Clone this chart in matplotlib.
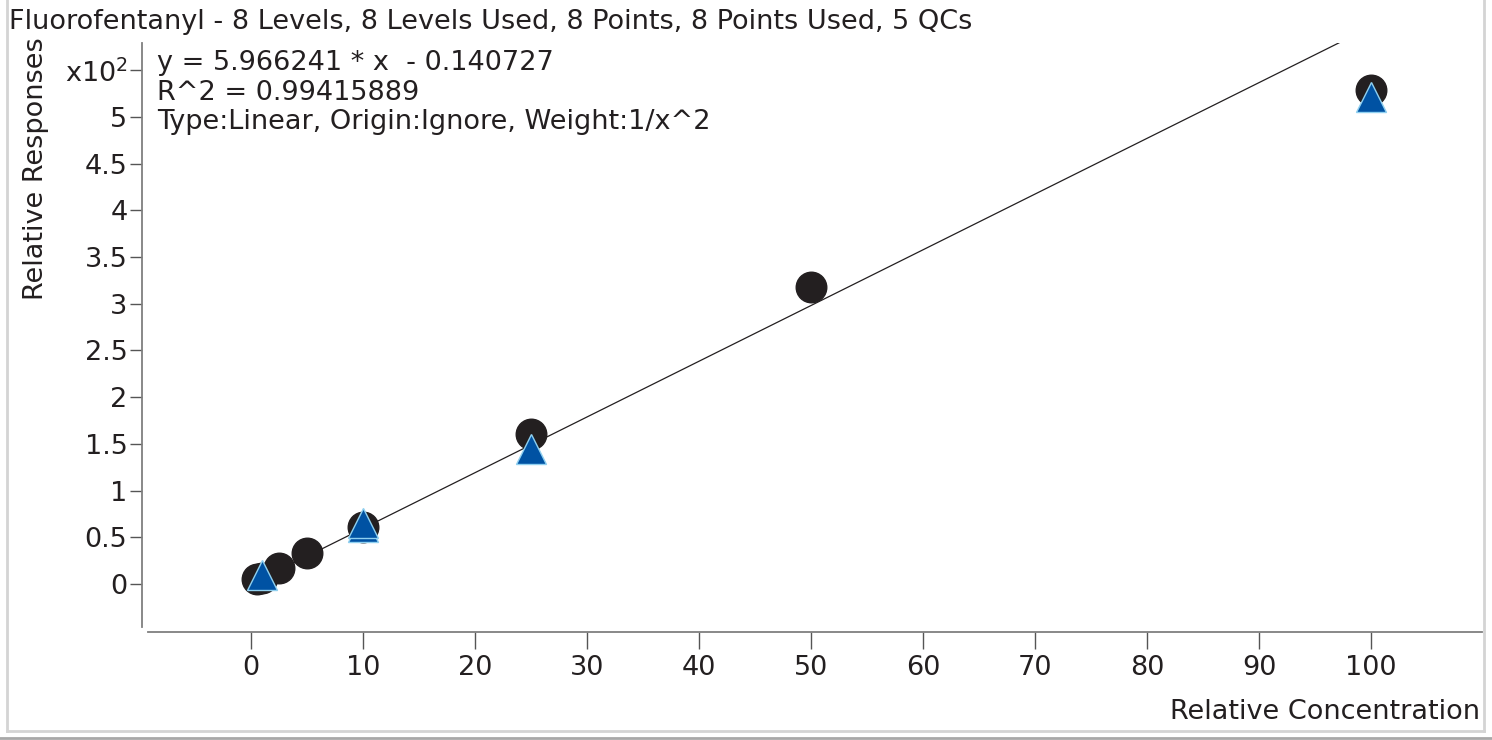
import matplotlib
matplotlib.use("Agg")
import matplotlib.pyplot as plt
from matplotlib.lines import Line2D
import numpy as np

# ---- data ----
title = "Fluorofentanyl - 8 Levels, 8 Levels Used, 8 Points, 8 Points Used, 5 QCs"
cal_conc = [0.5, 1.0, 2.5, 5.0, 10.0, 25.0, 50.0, 100.0]
cal_resp = [5.7, 6.5, 17.5, 32.9, 61.3, 161.0, 318.5, 529.0]
qc_conc = [1.0, 10.0, 10.0, 25.0, 100.0]
qc_resp = [9.6, 61.5, 65.5, 145.0, 521.0]
slope = 5.966241
intercept = -0.140727
eq_lines = ["y = 5.966241 * x  - 0.140727",
            "R^2 = 0.99415889",
            "Type:Linear, Origin:Ignore, Weight:1/x^2"]
xticks = [0, 10, 20, 30, 40, 50, 60, 70, 80, 90, 100]
yticks = [0, 50, 100, 150, 200, 250, 300, 350, 400, 450, 500, 550]
ytick_labels = ["0", "0.5", "1", "1.5", "2", "2.5", "3", "3.5", "4", "4.5", "5", "x10$^2$"]

W, H = 1492, 740
plt.rcParams['font.family'] = ['DejaVu Sans']
fig = plt.figure(figsize=(W / 100, H / 100), dpi=100)
fs = 19.5
txtc = '#231F20'

def fx(px):
    return px / W

def fy(py):
    return 1 - py / H

ax = fig.add_axes([fx(147.6), fy(626.7), fx(1482) - fx(147.6), fy(43) - fy(626.7)])
ax.set_xlim(-9.23, 109.9)
ax.set_ylim(-45.7, 579.2)

xl = np.array([0.5, 110.0])
ax.plot(xl, slope * xl + intercept, color='#231F20', lw=0.9, zorder=1)
ax.plot(cal_conc, cal_resp, 'o', ms=22, color='#231F20', mec='#231F20', zorder=2, clip_on=False)
ax.plot(qc_conc, qc_resp, '^', ms=21.5, color='#0052A3', mec='#8FD0F0', mew=1.0, zorder=3, clip_on=False)

for s in ['top', 'right']:
    ax.spines[s].set_visible(False)
ax.spines['left'].set_position(('outward', 4))
ax.spines['bottom'].set_position(('outward', 4))
for s in ['left', 'bottom']:
    ax.spines[s].set_color('#7F7F7F')
    ax.spines[s].set_linewidth(1.3)

ax.set_xticks(xticks)
ax.set_xticklabels([str(t) for t in xticks])
ax.set_yticks(yticks)
ax.set_yticklabels(ytick_labels)
ax.tick_params(axis='x', length=12.5, width=1.0, color='#555555', pad=4, labelsize=fs, labelcolor=txtc)
ax.tick_params(axis='y', length=8.5, width=1.0, color='#555555', pad=2, labelsize=fs, labelcolor=txtc)

fig.text(fx(9), fy(22), title, fontsize=fs, color=txtc, ha='left', va='center')
for i, s in enumerate(eq_lines):
    fig.text(fx(157), fy(63 + i * 29.5), s, fontsize=fs, color=txtc, ha='left', va='center')
fig.text(fx(36), fy(169), "Relative Responses", rotation=90, fontsize=fs, color=txtc, ha='center', va='center')
fig.text(fx(1480), fy(712), "Relative Concentration", fontsize=fs, color=txtc, ha='right', va='center')

# panel border
bc = '#D4D4D4'
fig.add_artist(Line2D([fx(7), fx(7)], [fy(0), fy(731)], color=bc, lw=2))
fig.add_artist(Line2D([fx(1484), fx(1484)], [fy(0), fy(731)], color=bc, lw=2))
fig.add_artist(Line2D([fx(7), fx(1484)], [fy(731), fy(731)], color=bc, lw=2))
fig.add_artist(Line2D([0, 1], [fy(738), fy(738)], color='#A8A8A8', lw=2))

fig.savefig("out.png", dpi=100)
